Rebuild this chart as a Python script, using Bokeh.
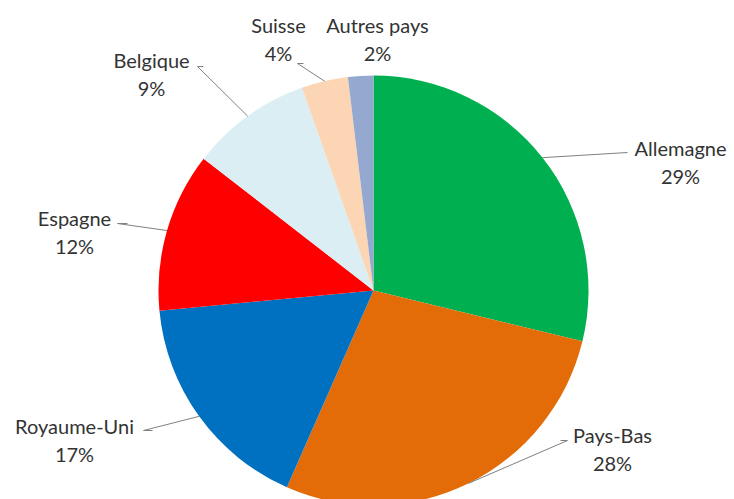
import math
from bokeh.plotting import figure
from bokeh.models import Range1d, ColumnDataSource
from bokeh.core.properties import value
from bokeh.embed import file_html
from bokeh.resources import INLINE

# Data
countries = ["Allemagne", "Pays-Bas", "Royaume-Uni", "Espagne", "Belgique", "Suisse", "Autres pays"]
shares = [28.8, 27.8, 16.9, 12.0, 9.1, 3.5, 1.9]
pct_labels = ["29%", "28%", "17%", "12%", "9%", "4%", "2%"]
colors = ["#00B050", "#E36C09", "#0070C0", "#FF0000", "#DAEEF3", "#FCD5B5", "#95A9D0"]

# Layout (screen pixel coordinates)
W, H = 734, 499
def sx(x): return x
def sy(y): return H - y

CX, CY, R = sx(373), sy(290), 215
label_pos = [(680, 147), (612, 434), (74, 425), (74, 217), (151, 59), (278, 24), (377, 24)]
line_gap = 28
elbows = [[(627, 152)], [(567, 440), (560, 440)], [(143, 430), (152, 430)],
          [(117, 223), (127, 223)], [(197, 66), (203, 66)], [(297, 63), (303, 63)], None]

total = sum(shares)
starts, ends, mids = [], [], []
cum = 0.0
for s in shares:
    a0 = math.pi / 2 - 2 * math.pi * cum / total
    cum += s
    a1 = math.pi / 2 - 2 * math.pi * cum / total
    starts.append(a0); ends.append(a1); mids.append((a0 + a1) / 2)

p = figure(width=W, height=H, x_range=Range1d(0, W), y_range=Range1d(0, H),
           output_backend="svg", toolbar_location=None,
           x_axis_type=None, y_axis_type=None, min_border=0)
p.outline_line_color = None
p.grid.visible = False
p.background_fill_color = "white"

src = ColumnDataSource(dict(start=starts, end=ends, color=colors))
p.wedge(x=CX, y=CY, radius=R, start_angle="start", end_angle="end",
        direction="clock", fill_color="color", line_color=None, source=src)

# leader lines
for m, el in zip(mids, elbows):
    if el is None:
        continue
    ex = CX + R * math.cos(m)
    ey = CY + R * math.sin(m)
    xs = [ex] + [sx(e[0]) for e in el]
    ys = [ey] + [sy(e[1]) for e in el]
    p.line(xs, ys, line_color="#808080", line_width=1)

font = value("Lato")
p.text(x=[sx(l[0]) for l in label_pos], y=[sy(l[1]) for l in label_pos], text=countries,
       text_align="center", text_baseline="middle", text_font=font,
       text_font_size="20px", text_color="#333333")
p.text(x=[sx(l[0]) for l in label_pos], y=[sy(l[1] + line_gap) for l in label_pos], text=pct_labels,
       text_align="center", text_baseline="middle", text_font=font,
       text_font_size="20px", text_color="#333333")

open("out.html", "w").write(file_html(p, INLINE))
